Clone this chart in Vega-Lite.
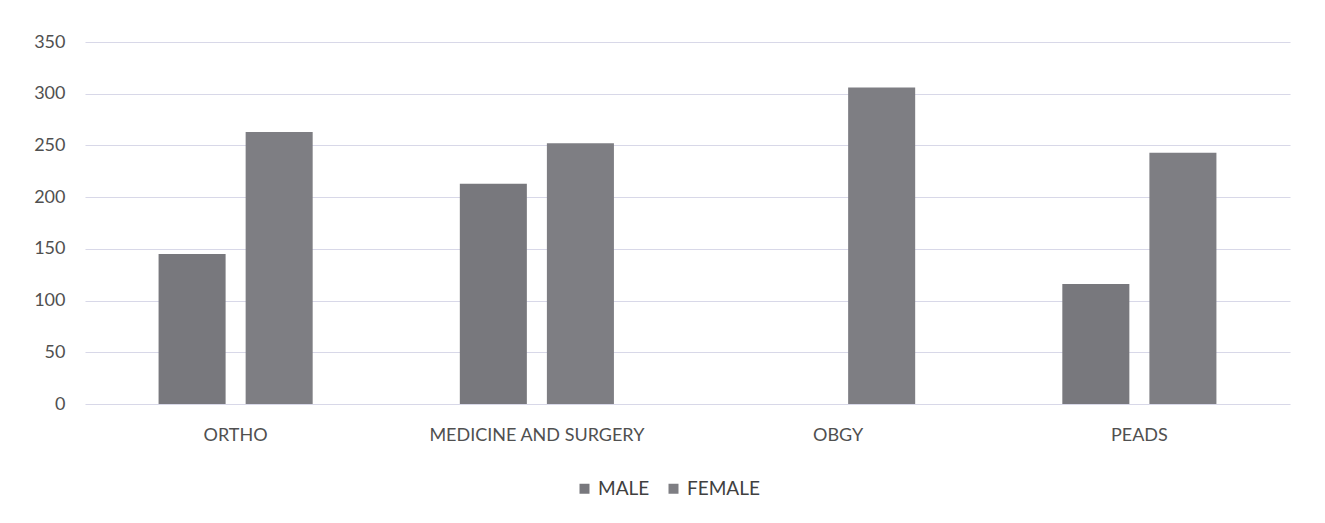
{
  "$schema": "https://vega.github.io/schema/vega-lite/v6.json",
  "autosize": {"type": "none"},
  "width": 1205,
  "height": 362,
  "padding": {"left": 85, "top": 42, "right": 35, "bottom": 119},
  "background": "white",
  "data": {
    "values": [
      {"dept": "ORTHO", "sex": "MALE", "count": 145},
      {"dept": "ORTHO", "sex": "FEMALE", "count": 263},
      {"dept": "MEDICINE AND SURGERY", "sex": "MALE", "count": 213},
      {"dept": "MEDICINE AND SURGERY", "sex": "FEMALE", "count": 252},
      {"dept": "OBGY", "sex": "MALE", "count": 0},
      {"dept": "OBGY", "sex": "FEMALE", "count": 306},
      {"dept": "PEADS", "sex": "MALE", "count": 116},
      {"dept": "PEADS", "sex": "FEMALE", "count": 243}
    ]
  },
  "mark": {"type": "bar"},
  "encoding": {
    "x": {
      "field": "dept", "type": "nominal", "sort": null,
      "scale": {"paddingInner": 0, "paddingOuter": 0},
      "axis": {"title": null, "labelAngle": 0, "domain": false, "ticks": false, "labelPadding": 22, "labelFontSize": 18, "labelLimit": 500, "labelColor": "#505050", "labelFont": "Lato"}
    },
    "xOffset": {
      "field": "sex", "type": "nominal", "sort": ["MALE", "FEMALE"],
      "scale": {"paddingInner": 0.23, "paddingOuter": 0.845}
    },
    "y": {
      "field": "count", "type": "quantitative",
      "scale": {"domain": [0, 350]},
      "axis": {"title": null, "values": [0, 50, 100, 150, 200, 250, 300, 350], "domain": false, "ticks": false, "labelPadding": 20, "labelFontSize": 18, "labelColor": "#505050", "labelFont": "Lato", "gridColor": "#d8d8e8", "gridWidth": 1.2}
    },
    "color": {
      "field": "sex", "type": "nominal", "sort": ["MALE", "FEMALE"],
      "scale": {"domain": ["MALE", "FEMALE"], "range": ["#78787d", "#7e7e83"]},
      "legend": {"title": null, "orient": "none", "legendX": 490, "legendY": 437, "direction": "horizontal", "symbolType": "square", "symbolSize": 100, "labelFontSize": 19, "labelColor": "#404040", "labelFont": "Lato", "columnPadding": 14, "labelOffset": 4, "symbolStrokeWidth": 0}
    }
  },
  "config": {"view": {"stroke": null}}
}
